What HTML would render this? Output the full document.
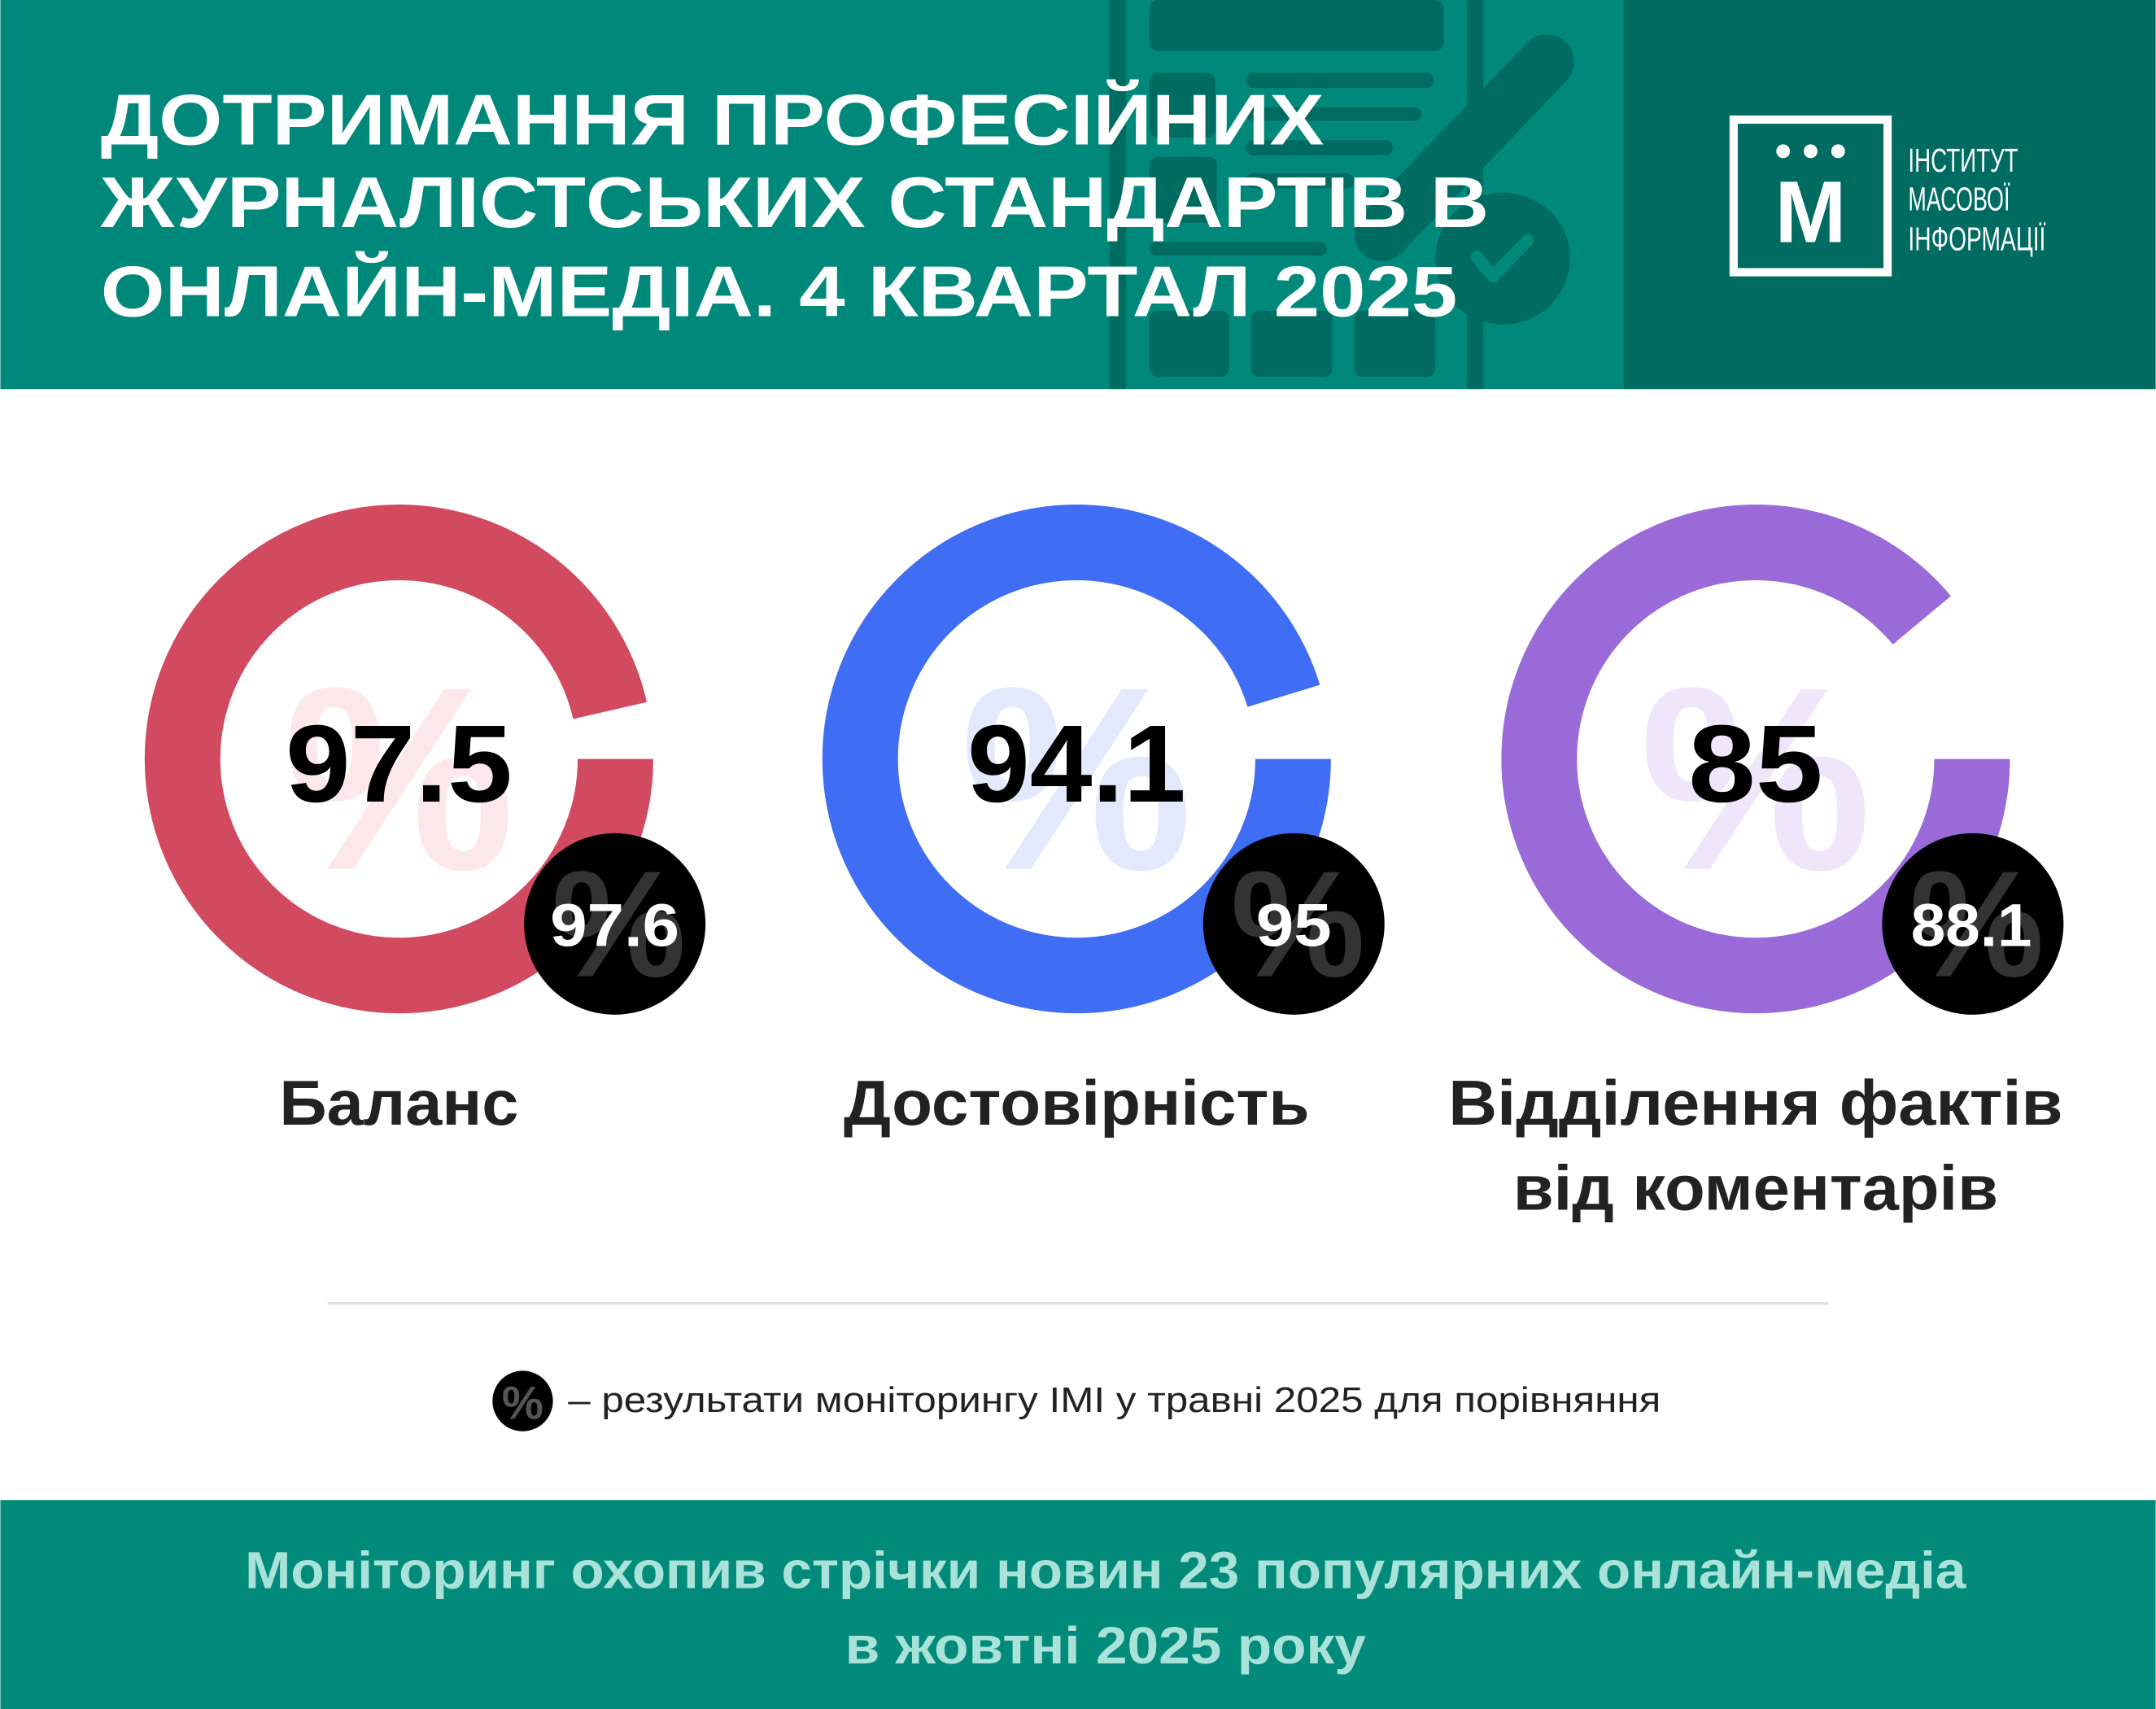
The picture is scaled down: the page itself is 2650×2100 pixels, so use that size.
<!DOCTYPE html>
<html><head><meta charset="utf-8"><style>
html,body{margin:0;padding:0;background:#fff;}
svg{display:block;}
text{font-family:"Liberation Sans","DejaVu Sans",sans-serif;}
</style></head><body>
<svg width="2650" height="2100" viewBox="0 0 1568 1243" xmlns="http://www.w3.org/2000/svg">
<rect width="1568" height="1243" fill="#fff"/>
<!-- header -->
<rect x="0" y="0" width="1568" height="283" fill="#00897b"/>
<rect x="1181" y="0" width="387" height="283" fill="#006b60"/>
<g fill="#006b60">
<rect x="807" y="0" width="12" height="283"/>
<rect x="1067" y="0" width="12" height="283"/>
<rect x="836" y="0" width="214" height="37" rx="6"/>
<rect x="836" y="53" width="48" height="47" rx="6"/>
<rect x="906" y="53" width="137" height="11" rx="5.5"/>
<rect x="906" y="78" width="128" height="10" rx="5"/>
<rect x="906" y="102" width="107" height="11" rx="5.5"/>
<rect x="836" y="114" width="49" height="48" rx="6"/>
<rect x="906" y="126" width="79" height="11" rx="5.5"/>
<rect x="836" y="176" width="129" height="10" rx="5"/>
<rect x="836" y="226" width="58" height="48" rx="6"/>
<rect x="910" y="226" width="59" height="48" rx="6"/>
<rect x="985" y="226" width="59" height="48" rx="6"/>
<line x1="1125" y1="45" x2="1005" y2="170" stroke="#006b60" stroke-width="40" stroke-linecap="round"/>
<ellipse cx="1093" cy="188" rx="49" ry="48"/>
</g>
<polyline points="1074,187 1086,201 1111,175" fill="none" stroke="#00897b" stroke-width="9" stroke-linecap="round" stroke-linejoin="round"/>
<g fill="#fff" font-weight="bold" font-size="52">
<text x="73" y="105" textLength="890" lengthAdjust="spacingAndGlyphs">ДОТРИМАННЯ ПРОФЕСІЙНИХ</text>
<text x="73" y="165" textLength="1010" lengthAdjust="spacingAndGlyphs">ЖУРНАЛІСТСЬКИХ СТАНДАРТІВ В</text>
<text x="73" y="230" textLength="987" lengthAdjust="spacingAndGlyphs">ОНЛАЙН-МЕДІА. 4 КВАРТАЛ 2025</text>
</g>
<!-- logo -->
<rect x="1261" y="87" width="112" height="111" fill="none" stroke="#fff" stroke-width="6"/>
<circle cx="1297" cy="110" r="5" fill="#fff"/><circle cx="1317" cy="110" r="5" fill="#fff"/><circle cx="1337" cy="110" r="5" fill="#fff"/>
<text x="1317" y="176" fill="#fff" font-weight="bold" font-size="64" text-anchor="middle" textLength="52" lengthAdjust="spacingAndGlyphs">М</text>
<g fill="#fff" font-size="24">
<text x="1388" y="125" textLength="80" lengthAdjust="spacingAndGlyphs">ІНСТИТУТ</text>
<text x="1388" y="153" textLength="74" lengthAdjust="spacingAndGlyphs">МАСОВОЇ</text>
<text x="1388" y="182" textLength="100" lengthAdjust="spacingAndGlyphs">ІНФОРМАЦІЇ</text>
</g>
<!-- rings -->
<g fill="none" stroke-width="55">
<circle cx="290" cy="552" r="157.5" stroke="#d14a60" stroke-dasharray="954 36" />
<circle cx="783" cy="552" r="157.5" stroke="#3f6df3" stroke-dasharray="943 47"/>
<circle cx="1277" cy="552" r="157.5" stroke="#9a6ad8" stroke-dasharray="880 110"/>
</g>
<g font-weight="bold" font-size="190" text-anchor="middle">
<text x="290" y="632" fill="#fde8e9">%</text>
<text x="783" y="632" fill="#e3e9fd">%</text>
<text x="1277" y="632" fill="#efe6fb">%</text>
</g>
<g font-weight="bold" font-size="80" fill="#000" text-anchor="middle">
<text x="290" y="583" textLength="165" lengthAdjust="spacingAndGlyphs">97.5</text>
<text x="783" y="583" textLength="159" lengthAdjust="spacingAndGlyphs">94.1</text>
<text x="1277" y="583" textLength="98" lengthAdjust="spacingAndGlyphs">85</text>
</g>
<g>
<circle cx="447" cy="672" r="66" fill="#000"/>
<circle cx="941" cy="672" r="66" fill="#000"/>
<circle cx="1435" cy="672" r="66" fill="#000"/>
</g>
<g font-weight="bold" font-size="110" fill="#333" text-anchor="middle">
<text x="450" y="710">%</text>
<text x="944" y="710">%</text>
<text x="1438" y="710">%</text>
</g>
<g font-weight="bold" font-size="44" fill="#fff" text-anchor="middle">
<text x="447" y="688" textLength="94" lengthAdjust="spacingAndGlyphs">97.6</text>
<text x="941" y="688" textLength="55" lengthAdjust="spacingAndGlyphs">95</text>
<text x="1434" y="688" textLength="88" lengthAdjust="spacingAndGlyphs">88.1</text>
</g>
<!-- labels -->
<g font-weight="bold" font-size="46" fill="#222" text-anchor="middle">
<text x="290" y="818" textLength="174" lengthAdjust="spacingAndGlyphs">Баланс</text>
<text x="783" y="818" textLength="339" lengthAdjust="spacingAndGlyphs">Достовірність</text>
<text x="1277" y="818" textLength="447" lengthAdjust="spacingAndGlyphs">Відділення фактів</text>
<text x="1277" y="880" textLength="353" lengthAdjust="spacingAndGlyphs">від коментарів</text>
</g>
<line x1="238" y1="948" x2="1330" y2="948" stroke="#e2e2e2" stroke-width="2"/>
<!-- legend -->
<circle cx="380" cy="1019" r="22" fill="#000"/>
<text x="380" y="1032" fill="#555" font-size="34" font-weight="bold" text-anchor="middle">%</text>
<text x="413" y="1027" fill="#222" font-size="26" textLength="795" lengthAdjust="spacingAndGlyphs">– результати моніторингу IMI у травні 2025 для порівняння</text>
<!-- footer -->
<rect x="0" y="1091" width="1568" height="152" fill="#028a7a"/>
<g fill="#a8e2d8" font-weight="bold" font-size="38" text-anchor="middle">
<text x="804" y="1155" textLength="1252" lengthAdjust="spacingAndGlyphs">Моніторинг охопив стрічки новин 23 популярних онлайн-медіа</text>
<text x="804" y="1210" textLength="379" lengthAdjust="spacingAndGlyphs">в жовтні 2025 року</text>
</g>
</svg>
</body></html>
